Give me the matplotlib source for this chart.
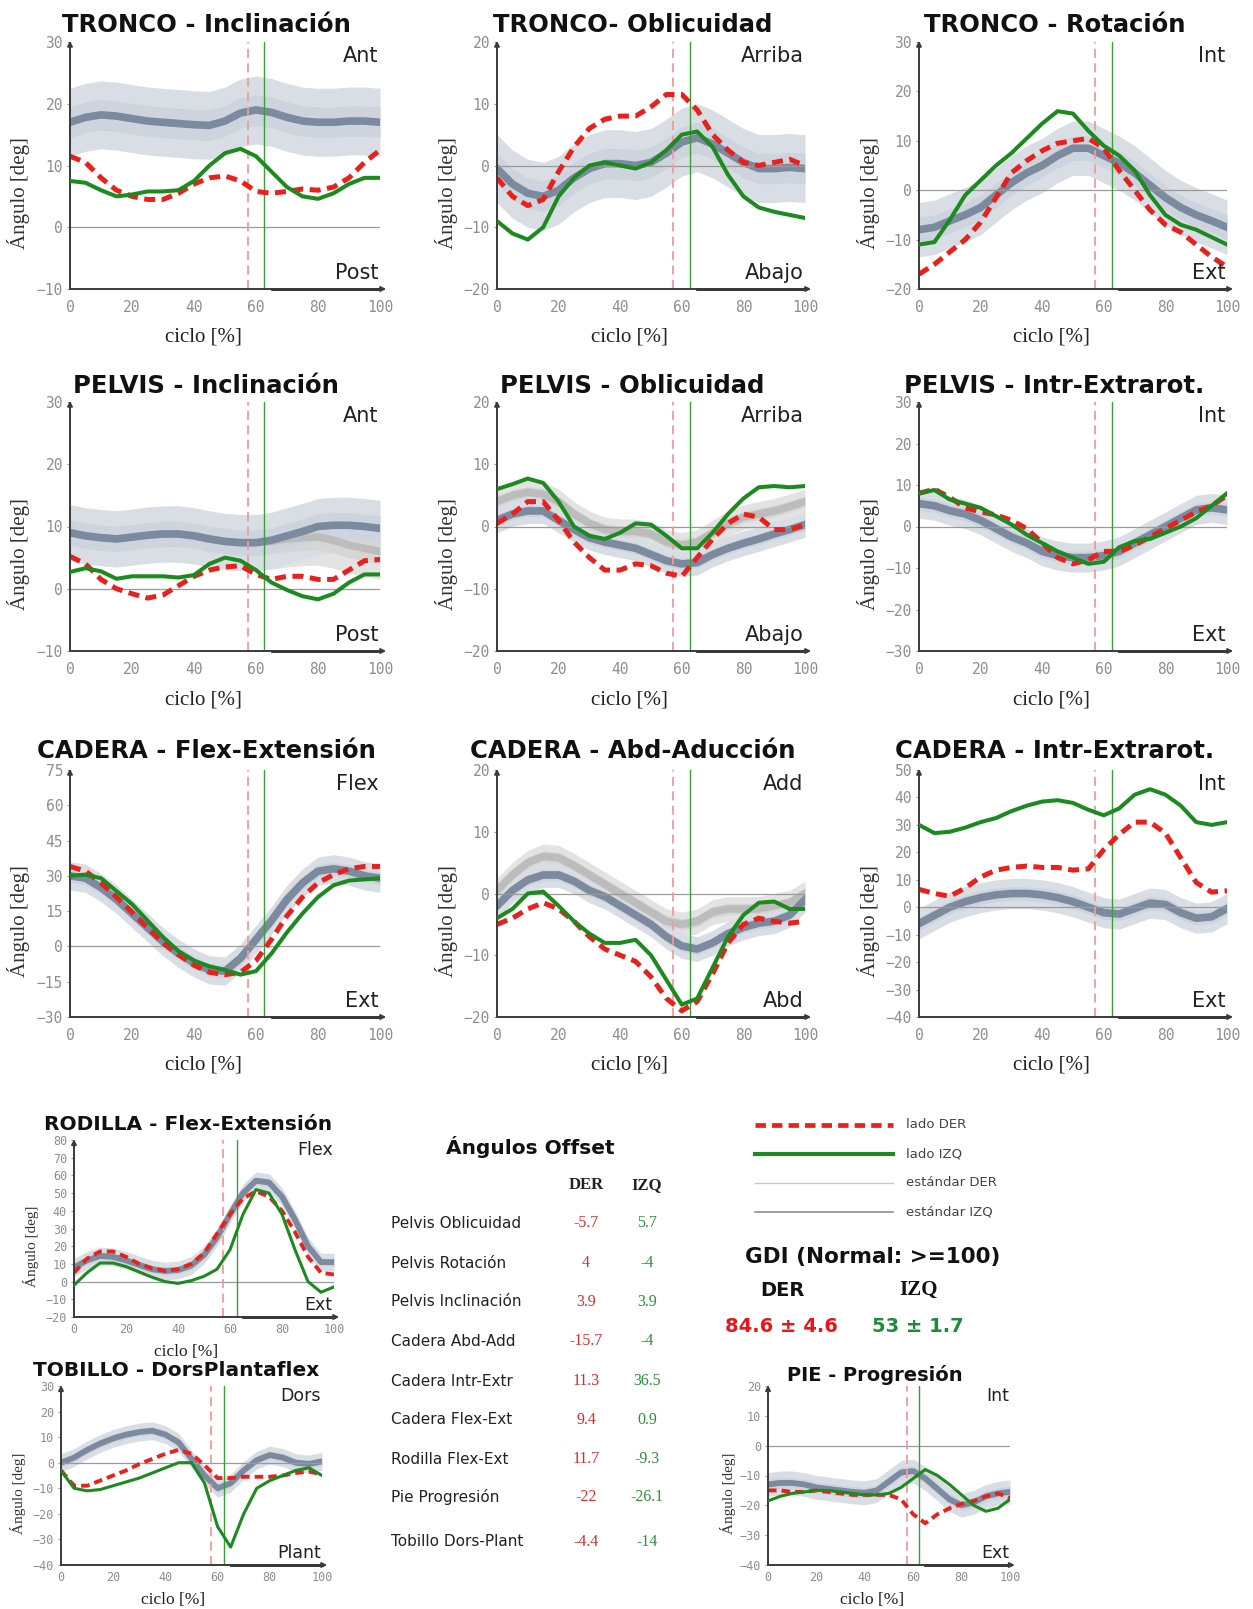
import numpy as np
import matplotlib.pyplot as plt

W, H = 1253, 1609

# gait cycle sample points (%)
ciclo = np.arange(0, 101, 5)

# toe-off instants
toe_off_der = 57.3
toe_off_izq = 62.5

# TRONCO - Inclinacion
tronco_incl_std = [17, 17.8, 18.2, 18, 17.6, 17.2, 17, 16.8, 16.6, 16.5, 17.2, 18.5, 19, 18.6, 17.8, 17.2, 17, 17, 17.2, 17.2, 17]
tronco_incl_sd = 5.5
tronco_incl_der = [11.5, 10.5, 8, 6, 5, 4.5, 4.5, 5.5, 7, 8, 8.3, 7.5, 5.8, 5.5, 5.8, 6.2, 6, 6.5, 8, 10.5, 12.5]
tronco_incl_izq = [7.5, 7.2, 6, 5, 5.3, 5.8, 5.8, 6, 7.5, 10, 12, 12.7, 11.5, 9, 6.5, 5, 4.6, 5.5, 7, 8, 8]

# TRONCO - Oblicuidad
tronco_obl_std = [-0.5, -3, -4.5, -5, -4, -2, -0.5, 0.3, 0.3, 0, 0.5, 2, 3.8, 4.5, 3.5, 2, 0.5, -0.5, -0.5, -0.3, -0.5]
tronco_obl_sd = 5.5
tronco_obl_der = [-2, -5, -6.5, -5.5, -1, 3, 6, 7.5, 8, 8, 9.5, 11.5, 11.5, 9, 5, 2.5, 0.5, 0, 0.5, 1, 0]
tronco_obl_izq = [-9, -11, -12, -10, -5, -2, 0, 0.5, 0, -0.5, 0.5, 2.5, 5, 5.5, 3, -1.5, -5, -6.8, -7.5, -8, -8.5]

# TRONCO - Rotacion
tronco_rot_std = [-8, -7.5, -6.2, -5, -3.5, -1, 1.5, 3.5, 5, 7, 8.5, 8.5, 7, 5.5, 3.5, 1, -1.5, -3.5, -5, -6.2, -7.5]
tronco_rot_sd = 5.5
tronco_rot_der = [-17, -15, -12.5, -10, -6.5, -1.5, 3.5, 6, 8, 9.5, 10, 10.5, 8.5, 4, 0, -4, -7, -8.5, -11, -13.5, -15.5]
tronco_rot_izq = [-11, -10.5, -6, -1, 2, 5, 7.5, 10.5, 13.5, 16, 15.5, 12, 9, 7, 4, -1, -5, -7, -8, -9.5, -11]

# PELVIS - Inclinacion
pelvis_incl_std_izq = [9, 8.5, 8.2, 8, 8.3, 8.6, 8.8, 8.8, 8.5, 8, 7.6, 7.4, 7.4, 7.8, 8.5, 9.2, 10, 10.2, 10.2, 10, 9.7]
pelvis_incl_std_der = [9, 8.5, 8.2, 8, 8.3, 8.6, 8.8, 8.8, 8.5, 8, 7.6, 7.4, 7.4, 7.6, 8, 8.2, 8.3, 7.8, 7, 6.5, 6]
pelvis_incl_sd = 4.5
pelvis_incl_der = [5.2, 4, 1.5, 0, -0.8, -1.5, -1, 0.5, 2, 3, 3.5, 3.7, 2.3, 1.5, 2, 2, 1.5, 1.5, 3, 4.5, 4.7]
pelvis_incl_izq = [2.7, 3.3, 2.8, 1.6, 2, 2, 2, 1.8, 2.2, 4, 5, 4.5, 3, 1, -0.2, -1.2, -1.7, -0.8, 1, 2.3, 2.3]

# PELVIS - Oblicuidad
pelvis_obl_std_izq = [1, 2, 2.5, 2.5, 1, -0.5, -1.8, -2.5, -3, -3.5, -4.5, -5.5, -6, -5.8, -4.5, -3.5, -2.7, -2, -1.2, -0.5, 0.3]
pelvis_obl_std_der = [4, 5, 5.5, 5.2, 4, 2, 0.5, -0.5, -0.8, -0.8, -1.2, -2.5, -3, -2.5, -1, 0.5, 1.5, 2, 2.5, 3.2, 4]
pelvis_obl_sd = 2
pelvis_obl_der = [0.5, 2, 4, 4, 1, -2.5, -5, -7, -7, -6, -6.3, -7.5, -8, -5, -2, 0.5, 2, 1.5, -0.5, -0.5, 0.3]
pelvis_obl_izq = [6, 6.8, 7.7, 7, 4, 0, -1.5, -2, -1, 0.5, 0.3, -1.5, -3.5, -3.5, -1, 2, 4.5, 6.3, 6.5, 6.3, 6.5]

# PELVIS - Intr-Extrarot.
pelvis_rot_std = [5.5, 5, 3.8, 3, 1.5, -0.5, -2.5, -4, -6, -7, -7.5, -7.5, -7, -6, -4, -2, 0, 2, 4, 4.5, 4]
pelvis_rot_sd = 3.5
pelvis_rot_der = [8, 9, 7, 4.5, 3.5, 2.8, 1.5, -0.5, -4, -7.5, -9, -8, -6, -6, -4.5, -2.5, -0.5, 1.5, 3.5, 5, 7.5]
pelvis_rot_izq = [8, 8.8, 6.5, 5.5, 4.5, 2.5, 0.5, -2, -4, -6, -7.5, -9, -8.5, -5, -3.5, -3, -1.5, 0, 2, 5, 8]

# CADERA - Flex-Extension
cadera_flex_std = [30, 29, 25, 20, 14, 8, 2, -3, -7, -10, -10.5, -5, 3, 11, 20, 27, 32, 33, 32, 30, 29]
cadera_flex_sd = 6
cadera_flex_der = [34, 32, 27, 21, 14.5, 8, 1.5, -3.5, -8, -11, -12, -11, -6, 3, 13, 21, 27, 30.5, 33, 34, 34]
cadera_flex_izq = [30, 30.5, 29, 23.5, 18, 11, 4, -2, -6, -8.5, -10, -12, -10.5, -3, 6, 14, 21, 26, 28, 28.5, 29]

# CADERA - Abd-Aduccion
cadera_abd_std_izq = [-2, 0.5, 2.2, 3, 3, 2, 0.5, -0.5, -2, -3.5, -5, -7, -8.5, -9, -8, -6.5, -5.5, -4.8, -4.5, -3.5, -1]
cadera_abd_std_der = [0.5, 3, 5, 6, 5.8, 4.5, 3, 1.5, 0, -1.5, -3, -4.5, -5, -4.5, -3, -2.5, -2.5, -2.5, -2, -1.5, 0]
cadera_abd_sd = 2
cadera_abd_der = [-5, -4, -2.5, -1.5, -2.5, -4.5, -7, -9, -10, -11, -13.5, -17, -19, -17.5, -13, -8, -5, -4, -4.5, -4.8, -4.5]
cadera_abd_izq = [-4, -2.5, 0, 0.3, -2, -4.5, -6.5, -8, -8, -7.5, -10, -14, -18, -17, -12, -7, -3.5, -1.5, -1.3, -2.5, -2.5]

# CADERA - Intr-Extrarot.
cadera_rot_std = [-6, -3, 0, 2, 3.5, 4.5, 5, 5, 4.5, 3.5, 2, 0, -2, -2.5, -0.5, 1.5, 1, -2, -4, -3.5, -0.5]
cadera_rot_sd = 5.5
cadera_rot_der = [6.5, 5, 4, 7, 11, 13.5, 14.5, 15, 14.5, 14.5, 13.5, 14, 21, 26.5, 31, 31, 27, 18, 9, 5.5, 6]
cadera_rot_izq = [30, 27, 27.5, 29, 31, 32.5, 35, 37, 38.5, 39, 38, 35.5, 33.5, 36, 41, 43, 41, 37, 31, 30, 31]

# RODILLA - Flex-Extension
rodilla_flex_std = [8, 12, 14.5, 14, 12, 9.5, 7, 6, 6.5, 9, 15, 25, 38, 50, 57, 56, 48, 35, 20, 11, 11]
rodilla_flex_sd = 5
rodilla_flex_der = [5, 13, 17, 17, 14, 10, 7.5, 6, 7, 10, 16, 27, 38, 47, 51, 48, 40, 28, 14, 5, 4]
rodilla_flex_izq = [-2, 5, 10.5, 10.5, 8.5, 5.5, 2.5, 0, -1, 0.5, 3, 7, 18, 38, 52, 50, 38, 18, 0, -6, -3]

# TOBILLO - DorsPlantaflex
tobillo_dors_std = [0, 2, 5, 7.5, 9.5, 11, 12, 12.5, 11, 8, 1.5, -5, -10, -8, -3, 1, 3, 2, 0, -0.5, 0.5]
tobillo_dors_sd = 3.5
tobillo_dors_der = [-3, -9, -9, -7, -5, -3, -0.5, 1.5, 3.5, 5, 3.5, -1, -6, -6, -5.5, -5.5, -5.5, -5, -4, -3.5, -4.5]
tobillo_dors_izq = [-3, -10, -11, -10.5, -9, -7.5, -6, -4, -2, 0, 0, -8, -25, -33, -20, -10, -7, -5, -3, -2, -5]

# PIE - Progresion
pie_prog_std = [-13, -12.5, -12.5, -13, -14, -14.5, -15, -15.5, -15.8, -15, -12, -9, -8.5, -11, -14.5, -18, -20, -19, -17, -16, -15.5]
pie_prog_sd = 4
pie_prog_der = [-15, -15, -15.5, -15.5, -15, -15.5, -16, -16.5, -16.5, -16.5, -16.5, -18, -23, -26, -23, -21, -19.5, -18.5, -17, -16, -17.5]
pie_prog_izq = [-18.5, -17, -16, -15.5, -15, -15, -15.5, -16, -16.5, -16.5, -16, -14, -11, -8, -10, -13, -16.5, -20, -22, -21, -18]

# offsets table
offset_names = ["Pelvis Oblicuidad", "Pelvis Rotación", "Pelvis Inclinación", "Cadera Abd-Add",
                "Cadera Intr-Extr", "Cadera Flex-Ext", "Rodilla Flex-Ext", "Pie Progresión",
                "Tobillo Dors-Plant"]
offset_der = [-5.7, 4, 3.9, -15.7, 11.3, 9.4, 11.7, -22, -4.4]
offset_izq = [5.7, -4, 3.9, -4, 36.5, 0.9, -9.3, -26.1, -14]

# gait deviation index (mean, sd)
gdi_der = (84.6, 4.6)
gdi_izq = (53, 1.7)

RED = '#e8211d'
GREEN = '#1c8a1f'
STD_LINE = '#7b8a9e'
STD_BAND = '#d9dee5'
STD_INNER = '#ced4dd'
DER_STD_LINE = '#bcbcbc'
DER_STD_BAND = '#e3e3e3'
DER_STD_INNER = '#d6d6d6'
TICK_GREY = '#8e8e8e'

SERIF = 'Liberation Serif'
MONO = 'DejaVu Sans Mono'

big = dict(tick=10.5, title=17.5, corner=15, ylab=15, xlab=15, mean_lw=5.5, der_lw=3.6, izq_lw=2.9, xpad=8)
small = dict(tick=8.5, title=14.5, corner=12.5, ylab=11, xlab=12.5, mean_lw=4.2, der_lw=2.8, izq_lw=2.2, xpad=4)


def rect(x0, y0, x1, y1):
    return [x0 / W, 1 - y1 / H, (x1 - x0) / W, (y1 - y0) / H]


def draw_std(ax, mean, sd, lw, line_col, band_col, inner_col):
    mean = np.asarray(mean, float)
    ax.fill_between(ciclo, mean - sd, mean + sd, color=band_col, lw=0, zorder=1)
    ax.fill_between(ciclo, mean - 0.45 * sd, mean + 0.45 * sd, color=inner_col, lw=0, zorder=1.1)
    ax.plot(ciclo, mean, color=line_col, lw=lw, solid_joinstyle='round', zorder=2)


def draw_panel(ax, title, der, izq, std_izq, std_der, sd, ylim, ystep, top_lab, bot_lab, st,
               title_y, ylab_y=0.39):
    if std_der is not None:
        draw_std(ax, std_der, sd, st['mean_lw'], DER_STD_LINE, DER_STD_BAND, DER_STD_INNER)
    draw_std(ax, std_izq, sd, st['mean_lw'], STD_LINE, STD_BAND, STD_INNER)

    ax.plot([0, 100], [0, 0], color='#9a9a9a', lw=0.9, zorder=2.5)
    ax.axvline(toe_off_der, color='#f29a9a', lw=1.3, ls=(0, (5, 3)), zorder=2.6)
    ax.axvline(toe_off_izq, color='#3c9c3c', lw=1.0, zorder=2.6)

    ax.plot(ciclo, der, color=RED, lw=st['der_lw'], dashes=(2.2, 1.3), dash_joinstyle='round', zorder=3)
    ax.plot(ciclo, izq, color=GREEN, lw=st['izq_lw'], solid_joinstyle='round', zorder=4)

    ax.set_xlim(0, 100)
    ax.set_ylim(*ylim)
    ax.set_xticks(range(0, 101, 20))
    ax.set_yticks(np.arange(ylim[0], ylim[1] + 0.1, ystep))
    for s in ax.spines.values():
        s.set_visible(False)
    ax.tick_params(axis='x', length=0, pad=st['xpad'], labelsize=st['tick'], labelcolor=TICK_GREY)
    ax.tick_params(axis='y', length=2, width=0.8, color='#999999', pad=3,
                   labelsize=st['tick'], labelcolor=TICK_GREY)
    for lab in ax.get_xticklabels() + ax.get_yticklabels():
        lab.set_family(MONO)

    # arrowed axes
    arrow = dict(arrowstyle='-|>', color='#3a3a3a', lw=1.4, mutation_scale=7, shrinkA=0, shrinkB=0)
    ax.annotate('', xy=(0, 1.005), xytext=(0, 0), xycoords='axes fraction', arrowprops=arrow)
    ax.annotate('', xy=(1.02, 0), xytext=(0, 0), xycoords='axes fraction', arrowprops=arrow)
    ax.plot([0.65, 1.0], [0, 0], transform=ax.transAxes, color='#111111', lw=1.9, clip_on=False)

    ax.text(0.44, title_y, title, transform=ax.transAxes, ha='center', va='baseline',
            fontsize=st['title'], fontweight='bold', color='#111111')
    ax.text(0.995, 0.945, top_lab, transform=ax.transAxes, ha='right', va='center',
            fontsize=st['corner'], color='#222222')
    ax.text(0.995, 0.065, bot_lab, transform=ax.transAxes, ha='right', va='center',
            fontsize=st['corner'], color='#222222')
    ax.text(-0.165, ylab_y, 'Ángulo [deg]', transform=ax.transAxes, rotation=90, ha='center',
            va='center', fontsize=st['ylab'], family=SERIF, color='#333333')
    ax.text(0.43, -0.195, 'ciclo [%]', transform=ax.transAxes, ha='center', va='center',
            fontsize=st['xlab'], family=SERIF, color='#222222')


fig = plt.figure(figsize=(W / 100, H / 100), dpi=100)

cols = [(70, 380), (497, 805), (919, 1227)]
rows = [(42, 289, 1.04), (402, 651, 1.036), (770, 1017, 1.05)]

panels = [
    ("TRONCO - Inclinación", tronco_incl_der, tronco_incl_izq, tronco_incl_std, None, tronco_incl_sd, (-10, 30), 10, "Ant", "Post"),
    ("TRONCO- Oblicuidad", tronco_obl_der, tronco_obl_izq, tronco_obl_std, None, tronco_obl_sd, (-20, 20), 10, "Arriba", "Abajo"),
    ("TRONCO - Rotación", tronco_rot_der, tronco_rot_izq, tronco_rot_std, None, tronco_rot_sd, (-20, 30), 10, "Int", "Ext"),
    ("PELVIS - Inclinación", pelvis_incl_der, pelvis_incl_izq, pelvis_incl_std_izq, pelvis_incl_std_der, pelvis_incl_sd, (-10, 30), 10, "Ant", "Post"),
    ("PELVIS - Oblicuidad", pelvis_obl_der, pelvis_obl_izq, pelvis_obl_std_izq, pelvis_obl_std_der, pelvis_obl_sd, (-20, 20), 10, "Arriba", "Abajo"),
    ("PELVIS - Intr-Extrarot.", pelvis_rot_der, pelvis_rot_izq, pelvis_rot_std, None, pelvis_rot_sd, (-30, 30), 10, "Int", "Ext"),
    ("CADERA - Flex-Extensión", cadera_flex_der, cadera_flex_izq, cadera_flex_std, None, cadera_flex_sd, (-30, 75), 15, "Flex", "Ext"),
    ("CADERA - Abd-Aducción", cadera_abd_der, cadera_abd_izq, cadera_abd_std_izq, cadera_abd_std_der, cadera_abd_sd, (-20, 20), 10, "Add", "Abd"),
    ("CADERA - Intr-Extrarot.", cadera_rot_der, cadera_rot_izq, cadera_rot_std, None, cadera_rot_sd, (-40, 50), 10, "Int", "Ext"),
]

for i, p in enumerate(panels):
    r, c = divmod(i, 3)
    y0, y1, ty = rows[r]
    x0, x1 = cols[c]
    ax = fig.add_axes(rect(x0, y0, x1, y1))
    ax.patch.set_visible(False)
    draw_panel(ax, *p, big, ty)

ax = fig.add_axes(rect(74, 1140, 334, 1317))
ax.patch.set_visible(False)
draw_panel(ax, "RODILLA - Flex-Extensión", rodilla_flex_der, rodilla_flex_izq, rodilla_flex_std, None,
           rodilla_flex_sd, (-20, 80), 10, "Flex", "Ext", small, 1.056, 0.40)

ax = fig.add_axes(rect(61, 1386, 322, 1565))
ax.patch.set_visible(False)
draw_panel(ax, "TOBILLO - DorsPlantaflex", tobillo_dors_der, tobillo_dors_izq, tobillo_dors_std, None,
           tobillo_dors_sd, (-40, 30), 10, "Dors", "Plant", small, 1.058, 0.40)

ax = fig.add_axes(rect(768, 1386, 1010, 1565))
ax.patch.set_visible(False)
draw_panel(ax, "PIE - Progresión", pie_prog_der, pie_prog_izq, pie_prog_std, None,
           pie_prog_sd, (-40, 20), 10, "Int", "Ext", dict(small, title=14), 1.03, 0.40)

# text block in pixel coordinates
ov = fig.add_axes([0, 0, 1, 1])
ov.set_xlim(0, W)
ov.set_ylim(H, 0)
ov.axis('off')

ov.text(530, 1147, "Ángulos Offset", ha='center', va='center', fontsize=14.5, fontweight='bold', color='#111111')
ov.text(586, 1185, "DER", ha='center', va='center', fontsize=12, fontweight='bold', family=SERIF, color='#222222')
ov.text(647, 1185, "IZQ", ha='center', va='center', fontsize=12, fontweight='bold', family=SERIF, color='#222222')
row_y = [1223, 1263, 1302, 1341, 1381, 1420, 1459, 1497, 1542]
for name, d, z, y in zip(offset_names, offset_der, offset_izq, row_y):
    ov.text(391, y, name, ha='left', va='center', fontsize=11, color='#222222')
    ov.text(586, y, f"{d:g}", ha='center', va='center', fontsize=11.5, family=SERIF, color='#e0282b')
    ov.text(647, y, f"{z:g}", ha='center', va='center', fontsize=11.5, family=SERIF, color='#2f8f3a')

# legend
leg = [("lado DER", dict(color=RED, lw=3.4, dashes=(2.2, 1.3))),
       ("lado IZQ", dict(color=GREEN, lw=3.0)),
       ("estándar DER", dict(color='#c8c8c8', lw=1.0)),
       ("estándar IZQ", dict(color='#8592a4', lw=1.2))]
for (lab, kw), y in zip(leg, [1125, 1154, 1183, 1212]):
    ov.plot([755, 893], [y, y], **kw)
    ov.text(906, y, lab, ha='left', va='center', fontsize=9.5, color='#444444')

# GDI
ov.text(873, 1257, "GDI (Normal: >=100)", ha='center', va='center', fontsize=15.5, fontweight='bold', color='#111111')
ov.text(782, 1290, "DER", ha='center', va='center', fontsize=14, fontweight='bold', color='#111111')
ov.text(918, 1290, "IZQ", ha='center', va='center', fontsize=15, fontweight='bold', family=SERIF, color='#111111')
ov.text(781, 1327, f"{gdi_der[0]:g} ± {gdi_der[1]:g}", ha='center', va='center', fontsize=14,
        fontweight='bold', color='#e8161c')
ov.text(918, 1327, f"{gdi_izq[0]:g} ± {gdi_izq[1]:g}", ha='center', va='center', fontsize=14,
        fontweight='bold', color='#1e8a3c')

fig.savefig('out.png', dpi=100, facecolor='white')
